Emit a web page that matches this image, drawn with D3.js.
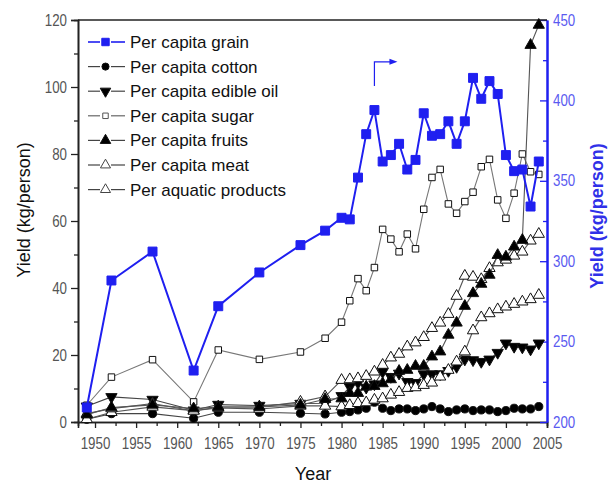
<!DOCTYPE html>
<html>
<head>
<meta charset="utf-8">
<script src="https://cdn.jsdelivr.net/npm/d3@7"></script>
<style>
  body { margin: 0; background: #fff; }
  svg { display: block; font-family: "Liberation Sans", Arial, sans-serif; }
</style>
</head>
<body>
<div id="chart"></div>
<script>
// years shared by every series
const years = [1949, 1952, 1957, 1962, 1965, 1970, 1975, 1978,
  1980, 1981, 1982, 1983, 1984, 1985, 1986, 1987, 1988, 1989,
  1990, 1991, 1992, 1993, 1994, 1995, 1996, 1997, 1998, 1999,
  2000, 2001, 2002, 2003, 2004];

// right axis (kg/person)
const grain = [209, 288, 306, 232, 272, 293, 310, 319,
  327, 326, 352, 379, 394, 362, 366, 373, 357, 363,
  392, 378, 379, 387, 373, 387, 414, 401, 412, 404,
  366, 356, 357, 334, 362];

// left axis (kg/person)
const cotton = [0.8, 2.5, 2.5, 1.1, 2.9, 2.9, 2.6, 2.4,
  2.9, 3.1, 3.6, 4.1, 5.9, 4.1, 3.4, 3.9, 3.9, 3.4,
  3.9, 4.6, 3.9, 3.1, 3.6, 3.9, 3.4, 3.6, 3.6, 3.1,
  3.4, 4.1, 3.9, 3.9, 4.6];
const edibleOil = [4.7, 7.5, 6.7, 3.5, 5.2, 4.9, 5.5, 5.6,
  7.8, 10.5, 11.7, 10.3, 11.3, 15.0, 13.5, 14.5, 12.0, 11.7,
  14.3, 14.3, 14.3, 15.3, 16.5, 18.7, 18.5, 18.0, 18.7, 20.7,
  23.5, 22.5, 22.3, 21.7, 23.5];
const sugar = [5.0, 13.4, 18.6, 6.0, 21.5, 18.7, 20.9, 25.0,
  29.8, 36.2, 42.8, 39.2, 46.1, 57.5, 54.6, 50.8, 56.1, 51.7,
  63.5, 73.0, 75.4, 65.1, 62.3, 65.8, 68.6, 76.2, 78.4, 66.3,
  60.8, 68.3, 80.0, 74.7, 73.9];
const fruits = [2.2, 4.3, 5.1, 4.0, 4.5, 4.5, 5.1, 6.8,
  7.0, 8.6, 8.6, 10.5, 10.7, 11.5, 12.7, 15.2, 15.5, 16.7,
  16.7, 19.5, 21.0, 26.0, 29.6, 34.6, 38.4, 41.2, 43.9, 49.8,
  49.3, 52.3, 54.3, 112.5, 118.5];
const meat = [2.5, 4.0, 5.5, 3.3, 4.5, 4.5, 6.0, 7.6,
  12.5, 12.7, 13.0, 13.7, 15.0, 17.0, 19.2, 20.3, 22.5, 23.7,
  25.3, 28.0, 29.6, 32.2, 37.6, 43.6, 43.3, 42.6, 45.9, 47.6,
  48.4, 49.6, 50.8, 54.1, 56.1];
const aquatic = [0.8, 2.9, 4.5, 3.4, 4.2, 3.9, 4.8, 4.8,
  4.6, 5.0, 5.6, 5.8, 6.6, 7.0, 8.1, 8.9, 10.1, 10.3,
  11.0, 11.7, 13.5, 15.5, 18.0, 21.0, 27.3, 31.2, 32.4, 33.6,
  34.4, 35.2, 35.9, 36.6, 37.9];

const legendLabels = ["Per capita grain", "Per capita cotton", "Per capita edible oil",
  "Per capita sugar", "Per capita fruits", "Per capita meat", "Per aquatic products"];
const leftTicks = [0, 20, 40, 60, 80, 100, 120];
const rightTicks = [200, 250, 300, 350, 400, 450];
const yearTicks = [1950, 1955, 1960, 1965, 1970, 1975, 1980, 1985, 1990, 1995, 2000, 2005];

(() => {
  const W = 610, H = 484;
  const plotL = 78, plotR = 547, plotT = 20, plotB = 422;
  const blue = "#1f1ff0";

  const svg = d3.select("#chart").append("svg")
    .attr("width", W).attr("height", H);

  const x = d3.scaleLinear().domain([1947.93, 2005]).range([plotL, plotR]);
  const yL = d3.scaleLinear().domain([0, 120]).range([plotB, plotT]);
  const yR = d3.scaleLinear().domain([200, 450]).range([plotB, plotT]);

  // axes
  const xAxis = d3.axisBottom(x).tickValues(yearTicks).tickFormat(d3.format("d"))
    .tickSize(6).tickPadding(10);
  const xMinor = d3.axisBottom(x).tickValues(d3.range(1952.5, 2005, 5)).tickFormat("").tickSize(4);
  svg.append("g").attr("transform", `translate(0,${plotB})`).call(xAxis);
  svg.append("g").attr("transform", `translate(0,${plotB})`).call(xMinor);

  const lAxis = d3.axisLeft(yL).tickValues(leftTicks).tickSize(7).tickPadding(4);
  const lMinor = d3.axisLeft(yL).tickValues(d3.range(10, 120, 20)).tickFormat("").tickSize(4);
  svg.append("g").attr("transform", `translate(${plotL},0)`).call(lAxis);
  svg.append("g").attr("transform", `translate(${plotL},0)`).call(lMinor);

  const rAxis = d3.axisRight(yR).tickValues(rightTicks).tickSizeInner(-7).tickSizeOuter(0).tickPadding(6);
  const rMinor = d3.axisRight(yR).tickValues(d3.range(225, 450, 50)).tickFormat("").tickSizeInner(-4).tickSizeOuter(0);
  svg.append("g").attr("class", "raxis").attr("transform", `translate(${plotR},0)`).call(rAxis);
  svg.append("g").attr("class", "raxis").attr("transform", `translate(${plotR},0)`).call(rMinor);

  svg.selectAll(".domain").attr("stroke", "#222").attr("stroke-width", 1.6);
  svg.selectAll(".tick line").attr("stroke", "#222").attr("stroke-width", 1.3);
  // narrow, tall digits like the original
  svg.selectAll(".tick text").attr("fill", "#555").style("font-size", "16px")
    .each(function() {
      const t = d3.select(this);
      const n = t.text().length;
      if (n) t.attr("textLength", n * 7.4).attr("lengthAdjust", "spacingAndGlyphs");
    });
  svg.selectAll(".raxis .domain").attr("stroke", blue).attr("stroke-width", 2);
  svg.selectAll(".raxis .tick line").attr("stroke", blue);
  svg.selectAll(".raxis .tick text").attr("fill", "#5a5af0");

  // top frame line
  svg.append("line").attr("x1", plotL).attr("x2", plotR).attr("y1", plotT).attr("y2", plotT)
    .attr("stroke", "#222").attr("stroke-width", 1.6);

  // axis titles
  svg.append("text").attr("transform", `translate(30,210) rotate(-90)`)
    .attr("text-anchor", "middle").style("font-size", "18px").attr("fill", "#111")
    .text("Yield (kg/person)");
  svg.append("text").attr("transform", `translate(603,216) rotate(-90)`)
    .attr("text-anchor", "middle").style("font-size", "18px").style("font-weight", "bold")
    .attr("fill", "#3030e8").text("Yield (kg/person)");
  svg.append("text").attr("x", 313).attr("y", 480)
    .attr("text-anchor", "middle").style("font-size", "18px").attr("fill", "#111")
    .text("Year");

  const sym = {
    square: d3.symbol().type(d3.symbolSquare),
    circle: d3.symbol().type(d3.symbolCircle),
    tri: d3.symbol().type(d3.symbolTriangle)
  };

  const series = [
    { vals: sugar, y: yL, line: "#777", lw: 1.1, shape: "square", size: 42, fill: "#fff", rot: 0 },
    { vals: cotton, y: yL, line: "#444", lw: 1.1, shape: "circle", size: 52, fill: "#000", rot: 0 },
    { vals: edibleOil, y: yL, line: "#444", lw: 1.1, shape: "tri", size: 55, fill: "#000", rot: 180 },
    { vals: aquatic, y: yL, line: "#555", lw: 1.1, shape: "tri", size: 55, fill: "#fff", rot: 0 },
    { vals: meat, y: yL, line: "#555", lw: 1.1, shape: "tri", size: 55, fill: "#fff", rot: 0 },
    { vals: fruits, y: yL, line: "#555", lw: 1.1, shape: "tri", size: 55, fill: "#000", rot: 0 },
    { vals: grain, y: yR, line: blue, lw: 2, shape: "square", size: 80, fill: blue, rot: 0, stroke: blue }
  ];

  series.forEach(s => {
    const pts = years.map((yr, i) => [yr, s.vals[i]]);
    const line = d3.line().x(d => x(d[0])).y(d => s.y(d[1]));
    svg.append("path").datum(pts)
      .attr("d", line).attr("fill", "none")
      .attr("stroke", s.line).attr("stroke-width", s.lw);
    svg.append("g").selectAll("path").data(pts).enter().append("path")
      .attr("d", sym[s.shape].size(s.size))
      .attr("transform", d => `translate(${x(d[0])},${s.y(d[1])}) rotate(${s.rot})`)
      .attr("fill", s.fill)
      .attr("stroke", s.stroke || "#111").attr("stroke-width", 1);
  });

  // arrow pointing grain to the right axis
  const ax = x(1984), ay0 = yR(409), ay1 = yR(424), ax1 = x(1986.8);
  svg.append("path")
    .attr("d", `M${ax},${ay0}V${ay1}H${ax1 - 6}`)
    .attr("fill", "none").attr("stroke", blue).attr("stroke-width", 1.2);
  svg.append("path")
    .attr("d", `M${ax1},${ay1}L${ax1 - 8},${ay1 - 3}L${ax1 - 8},${ay1 + 3}Z`)
    .attr("fill", blue);

  // legend
  const legendStyle = [
    { shape: "square", size: 55, fill: blue, stroke: blue, line: blue, rot: 0 },
    { shape: "circle", size: 40, fill: "#000", stroke: "#111", line: "#444", rot: 0 },
    { shape: "tri", size: 48, fill: "#000", stroke: "#111", line: "#444", rot: 180 },
    { shape: "square", size: 30, fill: "#fff", stroke: "#555", line: "#666", rot: 0 },
    { shape: "tri", size: 48, fill: "#000", stroke: "#111", line: "#444", rot: 0 },
    { shape: "tri", size: 44, fill: "#fff", stroke: "#444", line: "#444", rot: 0 },
    { shape: "tri", size: 44, fill: "#fff", stroke: "#444", line: "#444", rot: 0 }
  ];
  const leg = svg.append("g");
  legendLabels.forEach((lab, i) => {
    const st = legendStyle[i];
    const ly = 42 + i * 24.6;
    const g = leg.append("g").attr("transform", `translate(0,${ly})`);
    g.append("line").attr("x1", 88).attr("x2", 100).attr("y1", 0).attr("y2", 0)
      .attr("stroke", st.line).attr("stroke-width", i === 0 ? 1.6 : 1.2);
    g.append("line").attr("x1", 111).attr("x2", 125).attr("y1", 0).attr("y2", 0)
      .attr("stroke", st.line).attr("stroke-width", i === 0 ? 1.6 : 1.2);
    g.append("path").attr("d", sym[st.shape].size(st.size))
      .attr("transform", `translate(105.5,0) rotate(${st.rot})`)
      .attr("fill", st.fill).attr("stroke", st.stroke).attr("stroke-width", 1);
    g.append("text").attr("x", 130).attr("y", 6).style("font-size", "17px")
      .attr("fill", "#111").text(lab);
  });
})();
</script>
</body>
</html>
